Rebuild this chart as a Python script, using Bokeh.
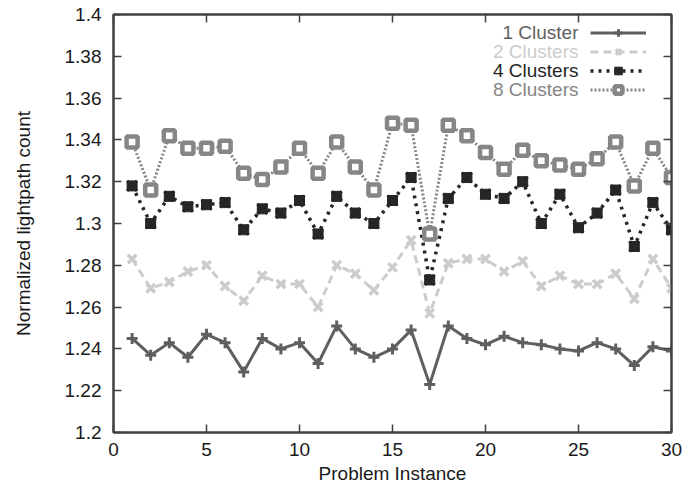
from bokeh.plotting import figure
from bokeh.models import (ColumnDataSource, Range1d, FixedTicker, LinearAxis,
                          Legend, LegendItem, Label, CustomJSTickFormatter)
from bokeh.embed import file_html
from bokeh.resources import INLINE

# ---- data ----
instances = list(range(1, 31))
cluster1 = [1.245, 1.237, 1.243, 1.236, 1.247, 1.243, 1.229, 1.245, 1.240, 1.243,
            1.233, 1.251, 1.240, 1.236, 1.240, 1.249, 1.223, 1.251, 1.245, 1.242,
            1.246, 1.243, 1.242, 1.240, 1.239, 1.243, 1.240, 1.232, 1.241, 1.239]
cluster2 = [1.283, 1.269, 1.272, 1.277, 1.280, 1.270, 1.263, 1.275, 1.271, 1.271,
            1.260, 1.280, 1.276, 1.268, 1.279, 1.292, 1.257, 1.281, 1.283, 1.283,
            1.277, 1.282, 1.270, 1.275, 1.271, 1.271, 1.276, 1.264, 1.283, 1.269]
cluster4 = [1.318, 1.300, 1.313, 1.308, 1.309, 1.310, 1.297, 1.307, 1.305, 1.311,
            1.295, 1.313, 1.305, 1.300, 1.311, 1.322, 1.273, 1.312, 1.322, 1.314,
            1.312, 1.320, 1.300, 1.314, 1.298, 1.305, 1.316, 1.289, 1.310, 1.297]
cluster8 = [1.339, 1.316, 1.342, 1.336, 1.336, 1.337, 1.324, 1.321, 1.327, 1.336,
            1.324, 1.339, 1.327, 1.316, 1.348, 1.347, 1.295, 1.347, 1.342, 1.334,
            1.326, 1.335, 1.330, 1.328, 1.326, 1.331, 1.339, 1.318, 1.336, 1.322]
series_names = ["1 Cluster", "2 Clusters", "4 Clusters", "8 Clusters"]
x_ticks = [0, 5, 10, 15, 20, 25, 30]
y_ticks = [1.2, 1.22, 1.24, 1.26, 1.28, 1.3, 1.32, 1.34, 1.36, 1.38, 1.4]
y_tick_labels = ["1.2", "1.22", "1.24", "1.26", "1.28", "1.3", "1.32", "1.34",
                 "1.36", "1.38", "1.4"]

FONT = "Liberation Sans"
FS = "19px"
AXC = "#404040"

p = figure(frame_width=558, frame_height=418, output_backend="svg", toolbar_location=None,
           x_range=Range1d(0, 30), y_range=Range1d(1.2, 1.4),
           min_border_left=113, min_border_right=19, min_border_top=14,
           min_border_bottom=57)
p.grid.visible = False
p.outline_line_color = AXC
p.outline_line_width = 2
p.background_fill_color = "white"
p.border_fill_color = "white"

def style_axis(ax, show_labels=True):
    ax.axis_line_color = AXC
    ax.axis_line_width = 2
    ax.major_tick_line_color = AXC
    ax.major_tick_line_width = 1.5
    ax.major_tick_in = 8
    ax.major_tick_out = 0
    ax.minor_tick_line_color = None
    ax.major_label_text_font = FONT
    ax.major_label_text_color = "#1a1a1a"
    ax.major_label_text_font_size = FS
    if not show_labels:
        ax.formatter = CustomJSTickFormatter(code="return '';")
        ax.major_label_standoff = 0
    ax.axis_label_text_font = FONT
    ax.axis_label_text_font_size = FS
    ax.axis_label_text_font_style = "normal"
    ax.axis_label_text_color = "#1a1a1a"

p.xaxis.ticker = FixedTicker(ticks=x_ticks)
p.yaxis.ticker = FixedTicker(ticks=y_ticks)
p.yaxis.major_label_overrides = dict(zip(y_ticks, y_tick_labels))
p.xaxis.axis_label = "Problem Instance"
p.yaxis.axis_label = "Normalized lightpath count"
style_axis(p.xaxis[0])
style_axis(p.yaxis[0])
p.xaxis.major_label_standoff = 10
p.yaxis.major_label_standoff = 12
p.xaxis.axis_label_standoff = 4
p.yaxis.axis_label_standoff = 28

ra = LinearAxis(ticker=FixedTicker(ticks=y_ticks))
ta = LinearAxis(ticker=FixedTicker(ticks=x_ticks))
style_axis(ra, False)
style_axis(ta, False)
p.add_layout(ra, "right")
p.add_layout(ta, "above")

src = ColumnDataSource(dict(x=instances, c1=cluster1, c2=cluster2, c4=cluster4, c8=cluster8))

colors = ["#5f5f5f", "#cccccc", "#262626", "#868686"]

l1 = p.line("x", "c1", source=src, line_color=colors[0], line_width=3)
m1 = p.scatter("x", "c1", source=src, marker="cross", size=11, line_color=colors[0], line_width=3)

l2 = p.line("x", "c2", source=src, line_color=colors[1], line_width=3, line_dash="8 5")
m2 = p.scatter("x", "c2", source=src, marker="x", size=12, line_color=colors[1], line_width=3.5)

l4 = p.line("x", "c4", source=src, line_color=colors[2], line_width=3.5, line_dash="3 5")
m4a = p.scatter("x", "c4", source=src, marker="square", size=10, line_color=colors[2],
                fill_color=colors[2], line_width=1)
m4b = p.scatter("x", "c4", source=src, marker="x", size=14, line_color=colors[2], line_width=3)

l8 = p.line("x", "c8", source=src, line_color=colors[3], line_width=3, line_dash="2 2")
m8 = p.scatter("x", "c8", source=src, marker="square", size=11, line_color=colors[3],
               fill_color="white", line_width=4.5)

legend = Legend(items=[LegendItem(label=" ", renderers=[l1, m1]),
                       LegendItem(label=" ", renderers=[l2, m2]),
                       LegendItem(label=" ", renderers=[l4, m4a, m4b]),
                       LegendItem(label=" ", renderers=[l8, m8])],
                location=(477, 333), orientation="vertical",
                padding=0, margin=0, spacing=0, glyph_width=56, glyph_height=19,
                label_width=0, label_height=19, label_standoff=0,
                label_text_font_size="1px",
                border_line_alpha=0, background_fill_alpha=0)
p.add_layout(legend, "center")

for i, (name, c) in enumerate(zip(series_names, colors)):
    lab = Label(x=465, y=400 - 19 * i, x_units="screen", y_units="screen",
                text=name, text_align="right", text_baseline="middle",
                text_font=FONT, text_font_size=FS, text_color=c)
    p.add_layout(lab)

open("out.html", "w").write(file_html(p, INLINE))
